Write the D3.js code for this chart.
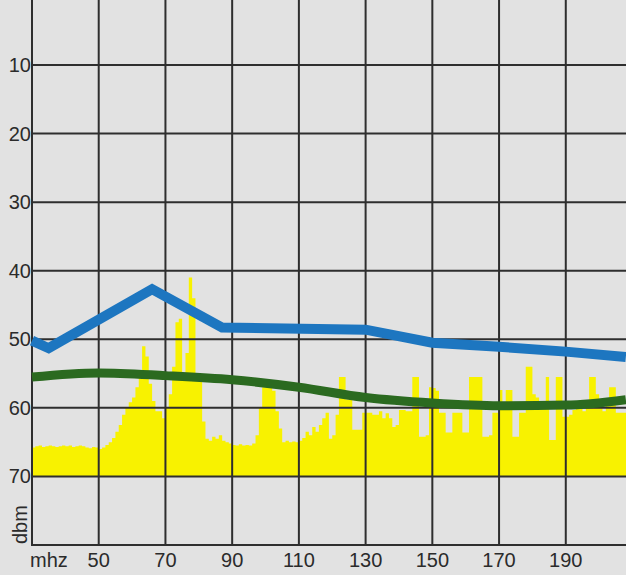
<!DOCTYPE html>
<html><head><meta charset="utf-8">
<script src="https://cdn.jsdelivr.net/npm/d3@7"></script>
<style>
html,body{margin:0;padding:0;background:#e2e2e2;}
svg{display:block;}
text{font-family:"Liberation Sans",Arial,Helvetica,sans-serif;fill:#2b2b2b;}
</style></head>
<body>
<svg id="c" width="626" height="575"></svg>
<script>
// ---- data ----
const yTicks = [10, 20, 30, 40, 50, 60, 70];
const xTicks = [50, 70, 90, 110, 130, 150, 170, 190];
const xUnit = "mhz";
const yUnit = "dbm";

// spectrum (yellow): one value per MHz starting at 30 MHz
const specStart = 30;
const spectrum = [
  65.8,65.6,65.5,65.7,65.6,65.5,65.6,65.7,65.6,65.5, // 30-39
  65.6,65.5,65.7,65.6,65.5,65.6,65.8,65.9,65.7,65.8, // 40-49
  66.0,65.8,65.4,65.0,64.4,63.5,62.5,61.0,60.0,59.2, // 50-59
  58.5,57.0,55.0,51.0,52.5,56.5,59.0,60.5,60.5,61.5, // 60-69
  60.0,58.0,54.0,47.5,47.0,55.0,52.0,41.0,44.0,55.0, // 70-79
  56.0,62.0,64.5,64.8,64.2,64.5,64.0,64.8,65.0,65.2, // 80-89
  65.4,65.5,65.3,65.5,65.4,65.5,65.2,64.0,60.0,57.0, // 90-99
  56.0,56.0,57.5,60.5,63.0,65.0,64.8,65.0,64.9,65.0, // 100-109
  64.8,64.4,63.5,64.0,62.8,63.5,62.5,61.5,60.7,64.5, // 110-119
  64.0,61.0,55.5,55.5,58.8,58.8,63.2,63.2,63.2,60.7, // 120-129
  60.7,60.7,61.0,61.0,60.5,61.5,60.8,61.5,62.8,62.5, // 130-139
  60.3,60.3,60.5,60.5,55.5,55.5,64.2,64.2,64.0,57.0, // 140-149
  57.1,57.5,60.7,60.7,63.6,63.6,60.7,60.7,60.7,63.6, // 150-159
  63.6,55.5,55.5,55.5,55.5,64.2,64.2,64.0,60.7,60.7, // 160-169
  57.4,60.0,57.4,57.4,64.2,64.2,60.7,60.7,54.0,54.0, // 170-179
  58.0,58.5,60.0,60.0,55.5,64.7,64.7,55.5,55.5,61.3, // 180-189
  61.3,61.0,60.3,59.8,60.0,60.5,60.0,55.5,55.5,58.0, // 190-199
  59.0,60.5,59.5,57.0,57.0,60.7,60.7,60.7,60.7        // 200-208
];
const spectrumFloor = 70;

// blue line
const blueFreq = [30, 35, 66, 87, 130, 150, 170, 190, 208];
const blueDbm  = [50.2, 51.3, 42.7, 48.3, 48.6, 50.5, 51.1, 51.8, 52.6];

// green line
const greenFreq = [30, 50, 70, 90, 110, 130, 150, 170, 190, 208];
const greenDbm  = [55.5, 54.9, 55.3, 55.9, 57.0, 58.5, 59.3, 59.7, 59.6, 58.8];

// ---- drawing ----
const svg = d3.select("#c");
const W = 626, H = 575;
const x = d3.scaleLinear().domain([30, 210]).range([32, 632.5]);
const y = d3.scaleLinear().domain([0, 80]).range([-3.6, 545]);

svg.append("rect").attr("width", W).attr("height", H).attr("fill", "#e2e2e2");

// yellow spectrum
const specData = spectrum.map((v, i) => ({f: specStart + i, v}));
specData.push({f: specStart + spectrum.length, v: spectrum[spectrum.length - 1]});
svg.append("path")
  .datum(specData)
  .attr("fill", "#f8f200")
  .attr("d", d3.area().curve(d3.curveStepAfter)
    .x(d => x(d.f)).y0(y(spectrumFloor)).y1(d => y(d.v)));

// grid
const grid = svg.append("g").attr("stroke", "#2e2e2e").attr("stroke-width", 2);
grid.selectAll("line.h").data(yTicks).join("line").attr("class", "h")
  .attr("x1", x(30)).attr("x2", W).attr("y1", d => y(d)).attr("y2", d => y(d));
grid.selectAll("line.v").data(xTicks).join("line").attr("class", "v")
  .attr("x1", d => x(d)).attr("x2", d => x(d)).attr("y1", 0).attr("y2", y(80));
// axes frame
grid.append("line").attr("x1", x(30)).attr("x2", x(30)).attr("y1", 0).attr("y2", y(80) + 1);
grid.append("line").attr("x1", x(30) - 1).attr("x2", W).attr("y1", y(80)).attr("y2", y(80));

// green line
svg.append("path")
  .datum(greenFreq.map((f, i) => [f, greenDbm[i]]))
  .attr("fill", "none").attr("stroke", "#2b6a20").attr("stroke-width", 9)
  .attr("stroke-linecap", "butt")
  .attr("d", d3.line().curve(d3.curveMonotoneX).x(d => x(d[0])).y(d => y(d[1])));

// blue line
svg.append("path")
  .datum(blueFreq.map((f, i) => [f, blueDbm[i]]))
  .attr("fill", "none").attr("stroke", "#1d76c0").attr("stroke-width", 10)
  .attr("stroke-linejoin", "miter")
  .attr("d", d3.line().x(d => x(d[0])).y(d => y(d[1])));

// y labels
svg.selectAll("text.yl").data(yTicks).join("text").attr("class", "yl")
  .attr("x", 31).attr("y", d => y(d) + 7)
  .attr("text-anchor", "end").attr("font-size", 20)
  .text(d => d);

// x labels
svg.selectAll("text.xl").data(xTicks).join("text").attr("class", "xl")
  .attr("x", d => x(d)).attr("y", 567)
  .attr("text-anchor", "middle").attr("font-size", 20)
  .text(d => d);
svg.append("text").attr("x", 30).attr("y", 567).attr("font-size", 20).text(xUnit);
svg.append("text").attr("transform", "translate(27,544) rotate(-90)")
  .attr("font-size", 20).text(yUnit);
</script>
</body></html>
